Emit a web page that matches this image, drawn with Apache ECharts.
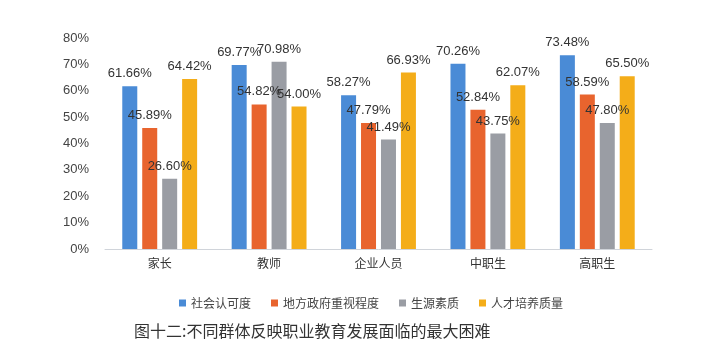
<!DOCTYPE html>
<html><head><meta charset="utf-8">
<script src="https://cdn.jsdelivr.net/npm/echarts@6/dist/echarts.min.js"></script>
<style>html,body{margin:0;padding:0;background:#fff}#c{width:720px;height:363px}</style>
</head><body><div id="c"></div>
<script>
const categories = ['家长', '教师', '企业人员', '中职生', '高职生'];
const seriesNames = ['社会认可度', '地方政府重视程度', '生源素质', '人才培养质量'];
const social = [61.66, 69.77, 58.27, 70.26, 73.48];
const government = [45.89, 54.82, 47.79, 52.84, 58.59];
const students = [26.60, 70.98, 41.49, 43.75, 47.80];
const training = [64.42, 54.00, 66.93, 62.07, 65.50];
const yTicks = [0, 10, 20, 30, 40, 50, 60, 70, 80];
const colors = ['#4a8bd6', '#e8642e', '#9a9da4', '#f4ad19'];
const values = [social, government, students, training];

const chart = echarts.init(document.getElementById('c'));
chart.setOption({
  backgroundColor: '#fff',
  animation: false,
  textStyle: { fontFamily: 'Liberation Sans, "Noto Sans CJK SC", sans-serif' },
  title: {
    text: '图十二:不同群体反映职业教育发展面临的最大困难',
    left: 129, top: 318,
    textStyle: { fontSize: 16, fontWeight: 'normal', color: '#333', fontFamily: '"Noto Sans CJK SC", sans-serif' }
  },
  legend: {
    data: seriesNames,
    top: 292, left: 174,
    itemWidth: 7, itemHeight: 7, itemGap: 20,
    icon: 'rect',
    textStyle: { fontSize: 12, color: '#444', fontFamily: '"Noto Sans CJK SC", sans-serif' }
  },
  grid: { left: 105, right: 68, top: 38, bottom: 114 },
  xAxis: {
    type: 'category', data: categories,
    axisLine: { lineStyle: { color: '#d0d4da' } },
    axisTick: { show: false },
    axisLabel: { color: '#333', fontSize: 12, margin: 8, fontFamily: '"Noto Sans CJK SC", sans-serif' }
  },
  yAxis: {
    type: 'value', min: yTicks[0], max: yTicks[yTicks.length - 1], interval: 10,
    splitLine: { show: false },
    axisLine: { show: false }, axisTick: { show: false },
    axisLabel: { formatter: '{value}%', color: '#444', fontSize: 13, margin: 16 }
  },
  series: seriesNames.map((name, i) => ({
    name, type: 'bar', data: values[i],
    barWidth: 15, barGap: '33%',
    itemStyle: { color: colors[i] },
    label: {
      show: true, position: 'top', distance: 6,
      formatter: p => p.value.toFixed(2) + '%',
      color: '#333', fontSize: 13
    }
  }))
});
</script></body></html>
